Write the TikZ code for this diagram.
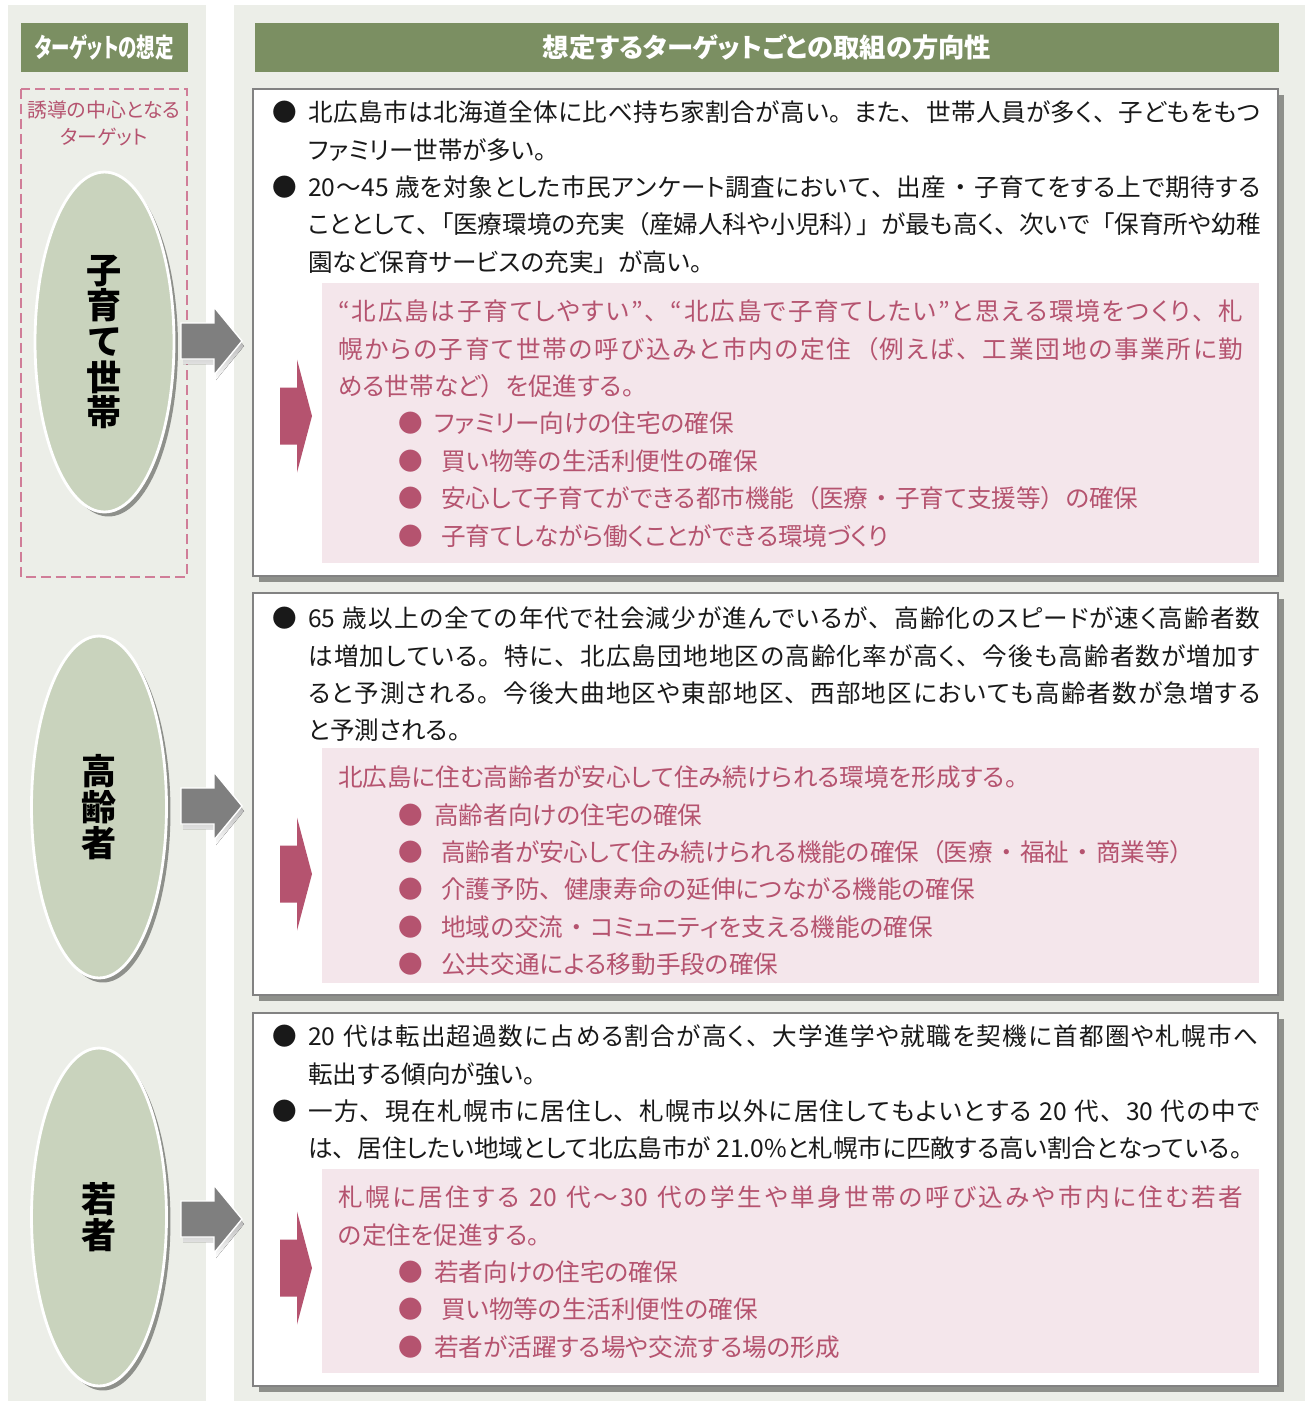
\documentclass[tikz,border=0pt]{standalone}
\usepackage{graphicx}
\usepackage{fontspec}
\setmainfont{Noto Sans CJK JP}[RawFeature=+palt]
\usetikzlibrary{shapes.geometric,shadows}

% glue between Japanese characters (justified lines, full-width punctuation)
\XeTeXinterchartokenstate=1
\newXeTeXintercharclass\jpclass
\newXeTeXintercharclass\jpopen
\newXeTeXintercharclass\jpclose
\newXeTeXintercharclass\jpmid
\newcount\jpc
\newcommand\setjprange[2]{\jpc=#1 \loop\XeTeXcharclass\jpc=\jpclass \advance\jpc by 1 \ifnum\jpc<#2 \repeat}
\setjprange{"3000}{"3100}
\setjprange{"4E00}{"A000}
\setjprange{"FF00}{"FFF0}
\XeTeXcharclass"201C=\jpopen
\XeTeXcharclass"300C=\jpopen
\XeTeXcharclass"FF08=\jpopen
\XeTeXcharclass"201D=\jpclass
\XeTeXcharclass"300D=\jpclose
\XeTeXcharclass"FF09=\jpclose
\XeTeXcharclass"3001=\jpclose
\XeTeXcharclass"3002=\jpclose
\XeTeXcharclass"30FB=\jpmid
\def\jpgap{\hskip0pt plus 1pt\relax}
\def\halfgap{\hskip0.5em plus 1pt\relax}
\def\midgap{\hskip0.3em plus 1pt\relax}
\XeTeXinterchartoks\jpclass\jpclass={\jpgap}
\XeTeXinterchartoks\jpclass 0={\jpgap}
\XeTeXinterchartoks 0\jpclass={\jpgap}
\XeTeXinterchartoks\jpclass\jpopen={\halfgap}
\XeTeXinterchartoks 0\jpopen={\halfgap}
\XeTeXinterchartoks\jpopen\jpclass={\jpgap}
\XeTeXinterchartoks\jpclass\jpclose={\jpgap}
\XeTeXinterchartoks\jpclose\jpclass={\halfgap}
\XeTeXinterchartoks\jpclose 0={\halfgap}
\XeTeXinterchartoks\jpclose\jpopen={\halfgap}
\XeTeXinterchartoks\jpclose\jpclose={\jpgap}
\XeTeXinterchartoks\jpclass\jpmid={\midgap}
\XeTeXinterchartoks\jpmid\jpclass={\midgap}

\definecolor{panelbg}{HTML}{ECEEE8}
\definecolor{headgreen}{HTML}{7B8F62}
\definecolor{ovalfill}{HTML}{C9D3BD}
\definecolor{rose}{HTML}{B5536F}
\definecolor{roseback}{HTML}{F4E6EB}
\definecolor{rosedash}{HTML}{D07D98}
\definecolor{shade}{HTML}{8E908B}
\definecolor{arrowgray}{HTML}{7F7F7F}
\definecolor{framegray}{HTML}{828282}

% one pixel of the layout
\newlength\pxl \setlength\pxl{0.02cm}
\newcommand\fullline[2]{\makebox[#1\pxl][s]{#2}}
\newcommand\blt{\makebox[36\pxl][l]{●}}
\newcommand\nob{\hspace*{36\pxl}}
\newcommand\shisaku{\hspace*{60\pxl}\makebox[36\pxl][l]{●}}
\newcommand\shisakuw{\shisaku\hspace*{7\pxl}}

\begin{document}
\begin{tikzpicture}[x=0.02cm, y=-0.02cm,
  panel/.style={fill=panelbg},
  headbox/.style={fill=headgreen, text=white, inner sep=0pt, minimum height=0.98cm,
    font=\bfseries\fontsize{15pt}{17pt}\selectfont},
  target/.style={ellipse, fill=ovalfill, draw=white, line width=1.6pt,
    minimum width=2.7cm, minimum height=6.8cm, align=center, inner sep=0pt,
    font=\bfseries\fontsize{20pt}{20.3pt}\selectfont,
    drop shadow={shadow xshift=0.08cm, shadow yshift=-0.09cm, fill=shade, opacity=1}},
  tbox/.style={fill=white, draw=framegray, line width=1.1pt,
    drop shadow={shadow xshift=0.12cm, shadow yshift=-0.12cm, fill=shade, opacity=1}},
  pinkback/.style={fill=roseback},
  guide/.style={text=rose, align=center, inner sep=0pt, font=\fontsize{11.3pt}{15.3pt}\selectfont},
  bodytext/.style={anchor=north west, inner sep=0pt, align=left, text=black!90,
    font=\fontsize{14pt}{21.3pt}\selectfont},
  pinktext/.style={bodytext, text=rose},
  grayarrow/.pic={
    \fill[shade, shift={(2,5)}] (-61,-18) -- (-28,-18) -- (-28,-34) -- (0,0) -- (-28,34) -- (-28,18) -- (-61,18) -- cycle;
    \filldraw[fill=arrowgray, draw=white, line width=0.8pt] (-61,-18) -- (-28,-18) -- (-28,-34) -- (0,0) -- (-28,34) -- (-28,18) -- (-61,18) -- cycle;
  },
  pinkarrow/.pic={
    \fill[rose] (-32,-28.5) -- (-15,-28.5) -- (-15,-56.5) -- (0,0) -- (-15,56.5) -- (-15,28.5) -- (-32,28.5) -- cycle;
  }]

  \useasboundingbox (0,0) rectangle (1305,1401);

  % Background panels
  \fill[panel] (8,5) rectangle (206,1401);
  \fill[panel] (234,5) rectangle (1305,1401);

  % Headers
  \node[headbox, minimum width=3.34cm] (headl) at (104.5,47.5) {\scalebox{0.7}[1]{ターゲットの想定}};
  \node[headbox, minimum width=20.5cm] (headr) at (767,47.5) {想定するターゲットごとの取組の方向性};

  % Dashed frame of the main target
  \draw[rosedash, line width=1.1pt, dash pattern=on 5.7pt off 2.8pt] (21,89) rectangle (187,577);
  \node[guide] (guide) at (104,123.5) {誘導の中心となる\\ターゲット};

  % Target ovals
  \node[target, minimum width=2.78cm] (kosodate) at (104.5,342) {子\\育\\て\\世\\帯};
  \node[target, minimum height=6.84cm] (koreisha) at (99,807) {高\\齢\\者};
  \node[target, minimum height=6.76cm] (wakamono) at (99,1217) {若\\者};

  % Arrows from the ovals
  \pic (ga1) at (242,341) {grayarrow};
  \pic (ga2) at (242,806) {grayarrow};
  \pic (ga3) at (242,1219) {grayarrow};

  % Boxes
  \draw[tbox] (253,89) rectangle (1278,576);
  \draw[tbox] (253,593) rectangle (1278,995);
  \draw[tbox] (253,1013) rectangle (1278,1386);
  \fill[pinkback] (322,283) rectangle (1259,563);
  \fill[pinkback] (322,748) rectangle (1259,983);
  \fill[pinkback] (322,1169) rectangle (1259,1373);
  \pic (pa1) at (312,416) {pinkarrow};
  \pic (pa2) at (312,874) {pinkarrow};
  \pic (pa3) at (312,1268) {pinkarrow};

  % Families with children
  \node[bodytext] (fact1) at (272,100.5) {%
    \blt\fullline{952}{北広島市は北海道全体に比べ持ち家割合が高い。また、世帯人員が多く、子どもをもつ}\\
    \nob ファミリー世帯が多い。\\
    \blt\fullline{952}{20～45 歳を対象とした市民アンケート調査において、出産・子育てをする上で期待する}\\
    \nob\fullline{952}{こととして、「医療環境の充実（産婦人科や小児科）」が最も高く、次いで「保育所や幼稚}\\
    \nob 園など保育サービスの充実」が高い。};
  \node[pinktext] (plan1) at (338,299.5) {%
    \fullline{905}{“北広島は子育てしやすい”、“北広島で子育てしたい”と思える環境をつくり、札}\\
    \fullline{905}{幌からの子育て世帯の呼び込みと市内の定住（例えば、工業団地の事業所に勤}\\
    める世帯など）を促進する。\\
    \shisaku ファミリー向けの住宅の確保\\
    \shisakuw 買い物等の生活利便性の確保\\
    \shisakuw 安心して子育てができる都市機能（医療・子育て支援等）の確保\\
    \shisakuw 子育てしながら働くことができる環境づくり};

  % Elderly
  \node[bodytext] (fact2) at (272,606.5) {%
    \blt\fullline{952}{65 歳以上の全ての年代で社会減少が進んでいるが、高齢化のスピードが速く高齢者数}\\
    \nob\fullline{952}{は増加している。特に、北広島団地地区の高齢化率が高く、今後も高齢者数が増加す}\\
    \nob\fullline{952}{ると予測される。今後大曲地区や東部地区、西部地区においても高齢者数が急増する}\\
    \nob と予測される。};
  \node[pinktext] (plan2) at (338,765.5) {%
    北広島に住む高齢者が安心して住み続けられる環境を形成する。\\
    \shisaku 高齢者向けの住宅の確保\\
    \shisakuw 高齢者が安心して住み続けられる機能の確保（医療・福祉・商業等）\\
    \shisakuw 介護予防、健康寿命の延伸につながる機能の確保\\
    \shisakuw 地域の交流・コミュニティを支える機能の確保\\
    \shisakuw 公共交通による移動手段の確保};

  % Young people
  \node[bodytext] (fact3) at (272,1024.5) {%
    \blt\fullline{950}{20 代は転出超過数に占める割合が高く、大学進学や就職を契機に首都圏や札幌市へ}\\
    \nob 転出する傾向が強い。\\
    \blt\fullline{952}{一方、現在札幌市に居住し、札幌市以外に居住してもよいとする 20 代、30 代の中で}\\
    \nob は、居住したい地域として北広島市が 21.0\%と札幌市に匹敵する高い割合となっている。};
  \node[pinktext] (plan3) at (338,1185.5) {%
    \fullline{905}{札幌に居住する 20 代～30 代の学生や単身世帯の呼び込みや市内に住む若者}\\
    の定住を促進する。\\
    \shisaku 若者向けの住宅の確保\\
    \shisakuw 買い物等の生活利便性の確保\\
    \shisaku 若者が活躍する場や交流する場の形成};

\end{tikzpicture}
\end{document}
